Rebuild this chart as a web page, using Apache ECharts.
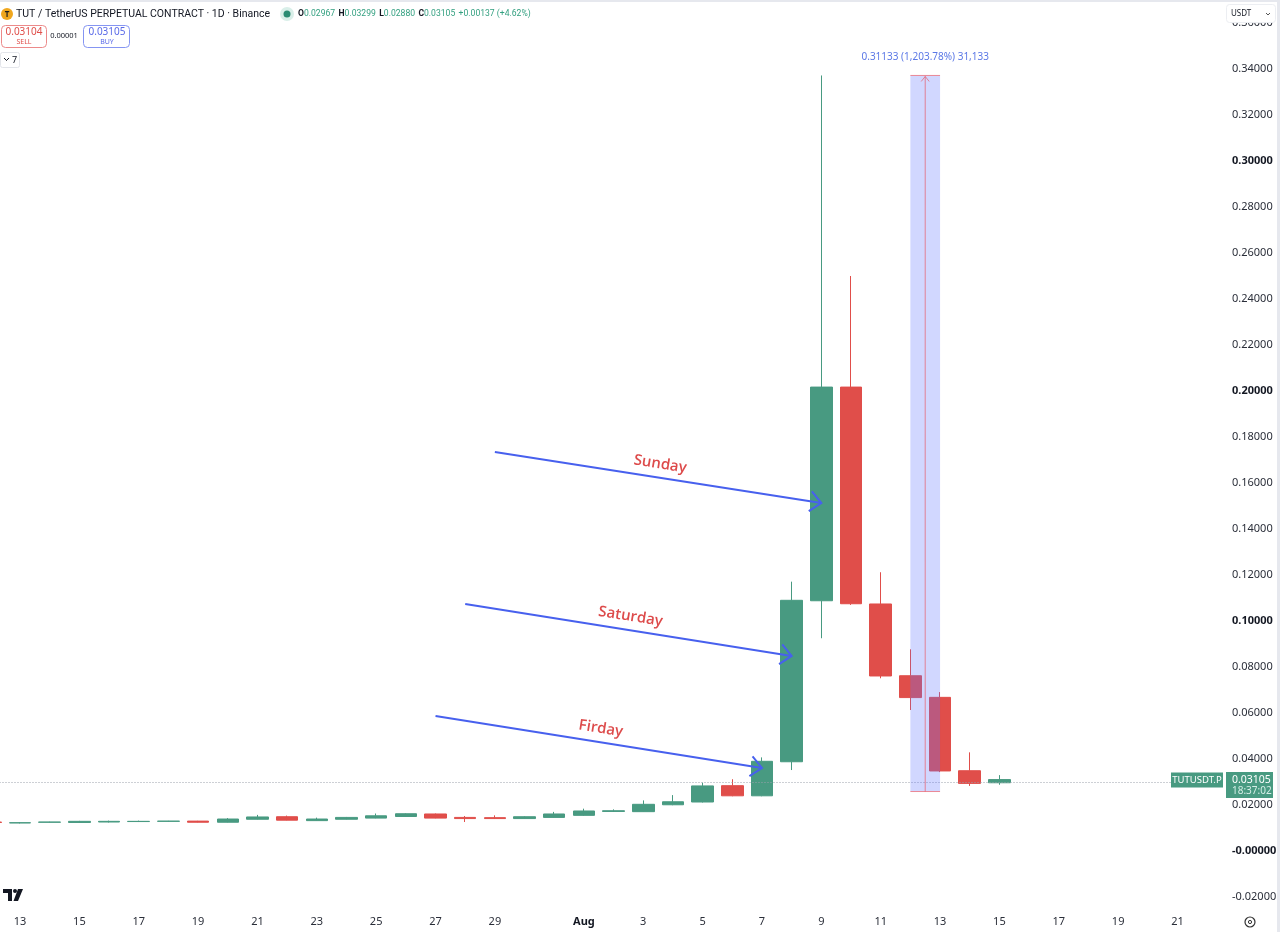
<!DOCTYPE html>
<html><head><meta charset="utf-8">
<script src="https://cdn.jsdelivr.net/npm/echarts@6/dist/echarts.min.js"></script>
<style>html,body{margin:0;padding:0;background:#fff;overflow:hidden;width:1280px;height:932px;position:relative}#c{position:absolute;left:-25px;top:0;width:1305px;height:932px}</style>
</head><body><div id="c"></div>
<script>
// ---------- DATA ----------
const categories = ['Jul 12','Jul 13','Jul 14','Jul 15','Jul 16','Jul 17','Jul 18','Jul 19','Jul 20','Jul 21','Jul 22','Jul 23','Jul 24','Jul 25','Jul 26','Jul 27','Jul 28','Jul 29','Jul 30','Jul 31',
  'Aug 1','Aug 2','Aug 3','Aug 4','Aug 5','Aug 6','Aug 7','Aug 8','Aug 9','Aug 10','Aug 11','Aug 12','Aug 13','Aug 14','Aug 15','Aug 16','Aug 17','Aug 18','Aug 19','Aug 20','Aug 21','Aug 22'];
const candleDates = ['Jul 12','Jul 13','Jul 14','Jul 15','Jul 16','Jul 17','Jul 18','Jul 19','Jul 20','Jul 21','Jul 22','Jul 23','Jul 24','Jul 25','Jul 26','Jul 27','Jul 28','Jul 29','Jul 30','Jul 31',
  'Aug 1','Aug 2','Aug 3','Aug 4','Aug 5','Aug 6','Aug 7','Aug 8','Aug 9','Aug 10','Aug 11','Aug 12','Aug 13','Aug 14','Aug 15'];
const opens  = [0.0126,0.0122,0.0125,0.0124,0.0126,0.0128,0.0129,0.0130,0.0125,0.0138,0.0149,0.0132,0.0138,0.0143,0.0150,0.0161,0.0146,0.0145,0.0141,0.0146,
  0.0155,0.0172,0.0171,0.0201,0.0213,0.0284,0.0240,0.0388,0.1088,0.2017,0.1074,0.0762,0.0668,0.0349,0.02967];
const closes = [0.0124,0.0123,0.0126,0.0129,0.0129,0.0129,0.0130,0.0125,0.0139,0.0148,0.0134,0.0139,0.0146,0.0153,0.0162,0.0143,0.0141,0.0141,0.0149,0.0161,
  0.0174,0.0175,0.0203,0.0214,0.0283,0.0240,0.0390,0.1090,0.2017,0.1075,0.0761,0.0667,0.0348,0.0294,0.03105];
const lows   = [0.0123,0.0120,0.0124,0.0123,0.0124,0.0126,0.0128,0.0124,0.0124,0.0137,0.0133,0.0131,0.0137,0.0142,0.0149,0.0142,0.0126,0.0139,0.0140,0.0145,
  0.0153,0.0170,0.0170,0.0199,0.0211,0.0238,0.0238,0.0352,0.0925,0.1070,0.0751,0.0613,0.0343,0.0283,0.02880];
const highs  = [0.0127,0.0125,0.0127,0.0131,0.0132,0.0132,0.0131,0.0131,0.0143,0.0157,0.0154,0.0145,0.0148,0.0163,0.0164,0.0163,0.0152,0.0155,0.0151,0.0170,
  0.0184,0.0181,0.0220,0.0243,0.0297,0.0312,0.0407,0.1171,0.33719,0.2500,0.1212,0.0877,0.0691,0.0429,0.03299];
const yTickValues = [-0.02,0,0.02,0.04,0.06,0.08,0.10,0.12,0.14,0.16,0.18,0.20,0.22,0.24,0.26,0.28,0.30,0.32,0.34,0.36];
const xTickLabels = ['Jul 13','Jul 15','Jul 17','Jul 19','Jul 21','Jul 23','Jul 25','Jul 27','Jul 29','Aug 1','Aug 3','Aug 5','Aug 7','Aug 9','Aug 11','Aug 13','Aug 15','Aug 17','Aug 19','Aug 21'];
const lastPrice = 0.03105;
const lastTime = '18:37:02';
const symbolTag = 'TUTUSDT.P';
const measureDates = ['Aug 12','Aug 13'];
const measurePrices = [0.02586, 0.33719];
const measureText = '0.31133 (1,203.78%) 31,133';
const annotationLabels = ['Sunday','Saturday','Firday'];
const annotationFromDates = ['Jul 29','Jul 28','Jul 27'];
const annotationFromPrices = [0.1735, 0.1074, 0.0587];
const annotationToDates = ['Aug 9','Aug 8','Aug 7'];
const annotationToPrices = [0.1513, 0.0848, 0.0361];

// ---------- STYLE ----------
const GREEN = '#489a81', RED = '#e04e4a', BLUE = '#4760ee';
const FONT = '"Noto Sans", "Liberation Sans", sans-serif';
const yMin = -0.024783, yMax = 0.37;
const OX = 25; // chart canvas is shifted 25px left of the page

const chart = echarts.init(document.getElementById('c'), null, {renderer: 'canvas'});

function yFmt(v) {
  const s = Math.abs(v) < 1e-12 ? '-0.00000' : v.toFixed(5);
  const bold = Math.abs(v * 10 - Math.round(v * 10)) < 1e-9;
  return bold ? '{b|' + s + '}' : s;
}

const option = {
  animation: false,
  backgroundColor: '#ffffff',
  textStyle: {fontFamily: FONT},
  grid: {left: 0.5, right: 58, top: 0, bottom: 24},
  xAxis: {
    type: 'category', data: categories, boundaryGap: true,
    axisLine: {show: false}, axisTick: {show: false}, splitLine: {show: false},
    axisLabel: {
      interval: (i, v) => xTickLabels.indexOf(v) >= 0,
      formatter: v => v === 'Aug 1' ? '{b|Aug}' : v.split(' ')[1],
      margin: 8, color: '#2a2e39', fontSize: 11, fontFamily: FONT,
      rich: {b: {fontWeight: 'bold', fontSize: 11, color: '#131722', fontFamily: FONT}}
    }
  },
  yAxis: {
    type: 'value', position: 'right', min: yMin, max: yMax,
    splitLine: {show: false}, axisLine: {show: false}, axisTick: {show: false},
    axisLabel: {
      customValues: yTickValues, margin: 10, color: '#2a2e39', fontSize: 11, fontFamily: FONT,
      formatter: yFmt,
      rich: {b: {fontWeight: 'bold', fontSize: 11, color: '#131722', fontFamily: FONT}}
    }
  },
  series: [
    {
      type: 'candlestick', z: 2,
      data: candleDates.map((d, i) => [opens[i], closes[i], lows[i], highs[i]]),
      barWidth: 22,
      itemStyle: {color: GREEN, color0: RED, borderColor: GREEN, borderColor0: RED, borderWidth: 1},
      markLine: {
        silent: true, symbol: ['none', 'none'], label: {show: false},
        lineStyle: {color: '#9aa0ab', type: [1, 2], width: 1},
        data: [{yAxis: lastPrice}]
      }
    },
    {
      type: 'custom', z: 5, silent: true,
      data: [[categories.indexOf(measureDates[0]), measurePrices[0], categories.indexOf(measureDates[1]), measurePrices[1]]],
      encode: {x: [0, 2], y: [1, 3]},
      renderItem: (params, api) => {
        const pLow = api.coord([api.value(0), api.value(1)]);
        const pHigh = api.coord([api.value(2), api.value(3)]);
        const x1 = pLow[0], x2 = pHigh[0], yTop = pHigh[1], yBot = pLow[1], xm = (x1 + x2) / 2;
        const red = 'rgba(235,70,80,0.6)';
        return {type: 'group', children: [
          {type: 'rect', shape: {x: x1, y: yTop, width: x2 - x1, height: yBot - yTop}, style: {fill: 'rgba(98,116,255,0.29)'}},
          {type: 'line', shape: {x1: xm, y1: yBot, x2: xm, y2: yTop + 1}, style: {stroke: red, lineWidth: 1}},
          {type: 'polyline', shape: {points: [[xm - 4, yTop + 6], [xm, yTop + 1], [xm + 4, yTop + 6]]}, style: {stroke: red, lineWidth: 1, fill: null}},
          {type: 'line', shape: {x1: x1, y1: yTop, x2: x2, y2: yTop}, style: {stroke: red, lineWidth: 1}},
          {type: 'line', shape: {x1: x1, y1: yBot, x2: x2, y2: yBot}, style: {stroke: red, lineWidth: 1}},
          {type: 'text', x: xm, y: yTop - 18, style: {text: measureText, fill: '#5b78e6', font: '10px ' + FONT, align: 'center', verticalAlign: 'middle', textAlign: 'center', textVerticalAlign: 'middle'}}
        ]};
      }
    },
    {
      type: 'custom', z: 6, silent: true,
      data: annotationLabels.map((l, i) => [categories.indexOf(annotationFromDates[i]), annotationFromPrices[i], categories.indexOf(annotationToDates[i]), annotationToPrices[i]]),
      encode: {x: [0, 2], y: [1, 3]},
      renderItem: (params, api) => {
        const p1 = api.coord([api.value(0), api.value(1)]);
        const p2 = api.coord([api.value(2), api.value(3)]);
        const dx = p2[0] - p1[0], dy = p2[1] - p1[1];
        const len = Math.sqrt(dx * dx + dy * dy);
        const ux = dx / len, uy = dy / len;
        const ang = Math.atan2(dy, dx);
        const a = 42 * Math.PI / 180, L = 15;
        const arm = s => [p2[0] - L * Math.cos(ang + s * a), p2[1] - L * Math.sin(ang + s * a)];
        const mx = p1[0] + dx * 0.5 + uy * 13.5, my = p1[1] + dy * 0.5 - ux * 13.5;
        return {type: 'group', children: [
          {type: 'line', shape: {x1: p1[0], y1: p1[1], x2: p2[0], y2: p2[1]}, style: {stroke: BLUE, lineWidth: 2}},
          {type: 'polyline', shape: {points: [arm(1), p2, arm(-1)]}, style: {stroke: BLUE, lineWidth: 2, fill: null}},
          {type: 'text', x: mx, y: my, rotation: -ang,
            style: {text: annotationLabels[params.dataIndex], fill: '#dd4b4b', font: '600 15px "Open Sans", ' + FONT, align: 'center', verticalAlign: 'middle', textAlign: 'center', textVerticalAlign: 'middle'}}
        ]};
      }
    }
  ]
};
chart.setOption(option);

// ---------- overlay graphics (page coordinates, shifted by OX inside the canvas) ----------
const py = chart.convertToPixel({yAxisIndex: 0}, lastPrice);
function txt(x, y, text, font, fill, align) {
  return {type: 'text', x: x, y: y, silent: true, z: 100,
    style: {text: text, font: font, fill: fill, align: align || 'left', verticalAlign: 'middle', textAlign: align || 'left', textVerticalAlign: 'middle'}};
}
const g = [];
// frame
g.push({type: 'rect', shape: {x: 0, y: 0, width: 1280, height: 2}, style: {fill: '#e6e8ee'}, z: 100, silent: true});
g.push({type: 'rect', shape: {x: 1277, y: 0, width: 3, height: 932}, style: {fill: '#e6e8ee'}, z: 100, silent: true});
// header
g.push({type: 'circle', shape: {cx: 7, cy: 14, r: 6}, style: {fill: '#f0a71e'}, z: 100, silent: true});
g.push(txt(7, 14.5, 'T', 'bold 8px ' + FONT, '#1e1e1e', 'center'));
g.push(txt(16, 14, 'TUT / TetherUS PERPETUAL CONTRACT · 1D · Binance', '10.5px Roboto, ' + FONT, '#131722'));
g.push({type: 'circle', shape: {cx: 287, cy: 14, r: 7}, style: {fill: '#d9efe9'}, z: 100, silent: true});
g.push({type: 'circle', shape: {cx: 287, cy: 14, r: 3.5}, style: {fill: '#2a8c73'}, z: 101, silent: true});
g.push({type: 'text', x: 298, y: 14, silent: true, z: 100, style: {
  text: '{k|O}{v|0.02967} {k|H}{v|0.03299} {k|L}{v|0.02880} {k|C}{v|0.03105} {v|+0.00137 (+4.62%)}',
  verticalAlign: 'middle', textVerticalAlign: 'middle',
  rich: {k: {fontSize: 8.6, fontWeight: 'bold', fontFamily: 'Roboto', color: '#131722', fill: '#131722'}, v: {fontSize: 8.6, fontFamily: 'Roboto', color: '#33a080', fill: '#33a080'}}
}});
// sell / buy
g.push({type: 'rect', shape: {x: 1.5, y: 25.5, width: 45, height: 22, r: 4}, style: {fill: '#fff', stroke: '#ec8a8a', lineWidth: 1}, z: 100, silent: true});
g.push(txt(24, 32, '0.03104', '10px ' + FONT, '#e04e4a', 'center'));
g.push(txt(24, 42, 'SELL', '7px ' + FONT, '#e04e4a', 'center'));
g.push(txt(64, 36, '0.00001', '7.5px ' + FONT, '#131722', 'center'));
g.push({type: 'rect', shape: {x: 83.5, y: 25.5, width: 46, height: 22, r: 4}, style: {fill: '#fff', stroke: '#8595f2', lineWidth: 1}, z: 100, silent: true});
g.push(txt(107, 32, '0.03105', '10px ' + FONT, '#5a6ae8', 'center'));
g.push(txt(107, 42, 'BUY', '7px ' + FONT, '#5a6ae8', 'center'));
g.push({type: 'rect', shape: {x: 0.5, y: 52.5, width: 19, height: 15, r: 2}, style: {fill: '#fff', stroke: '#e3e5ea', lineWidth: 1}, z: 100, silent: true});
g.push({type: 'polyline', shape: {points: [[4, 58], [6.5, 60.5], [9, 58]]}, style: {stroke: '#131722', lineWidth: 1, fill: null}, z: 101, silent: true});
g.push(txt(12, 60, '7', '9px ' + FONT, '#131722'));
// USDT selector
g.push({type: 'rect', shape: {x: 1226.5, y: 4.5, width: 49, height: 18, r: 3}, style: {fill: '#fff', stroke: '#eceef2', lineWidth: 1}, z: 100, silent: true});
g.push(txt(1231, 13.5, 'USDT', '8px ' + FONT, '#131722'));
g.push({type: 'polyline', shape: {points: [[1266, 13], [1268, 15], [1270, 13]]}, style: {stroke: '#555', lineWidth: 1, fill: null}, z: 101, silent: true});
// last price tags
g.push({type: 'rect', shape: {x: 1171, y: py - 7, width: 52, height: 15}, style: {fill: GREEN}, z: 100, silent: true});
g.push(txt(1197, py + 0.5, symbolTag, '9.5px ' + FONT, '#ffffff', 'center'));
g.push({type: 'rect', shape: {x: 1226, y: py - 7.5, width: 47, height: 26}, style: {fill: GREEN}, z: 100, silent: true});
g.push(txt(1232, py, lastPrice.toFixed(5), '10.5px ' + FONT, '#ffffff'));
g.push(txt(1232, py + 12, lastTime, '10px ' + FONT, '#d5eee6'));
// TradingView logo (shape)
g.push({type: 'polygon', shape: {points: [[3, 889], [12, 889], [12, 901], [8, 901], [8, 893], [3, 893]]}, style: {fill: '#131722'}, z: 100, silent: true});
g.push({type: 'circle', shape: {cx: 15, cy: 891, r: 2}, style: {fill: '#131722'}, z: 100, silent: true});
g.push({type: 'polygon', shape: {points: [[18, 889], [23, 889], [18, 901], [13.5, 901]]}, style: {fill: '#131722'}, z: 100, silent: true});
// settings icon
g.push({type: 'circle', shape: {cx: 1250, cy: 922, r: 5}, style: {fill: null, stroke: '#333', lineWidth: 1.2}, z: 100, silent: true});
g.push({type: 'circle', shape: {cx: 1250, cy: 922, r: 1.6}, style: {fill: null, stroke: '#333', lineWidth: 1}, z: 100, silent: true});
chart.setOption({graphic: {elements: [{type: 'group', x: OX, y: 0, children: g}]}});
</script>
</body></html>
